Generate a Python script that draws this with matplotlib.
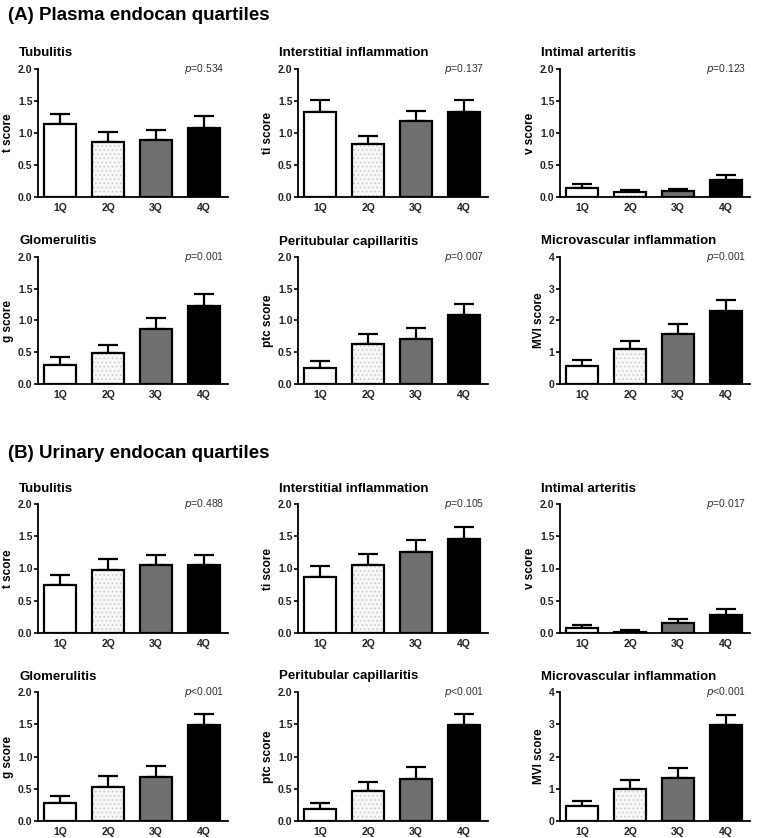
import numpy as np
import matplotlib.pyplot as plt

plt.rcParams["font.family"] = ["Liberation Sans", "DejaVu Sans"]
plt.rcParams["hatch.linewidth"] = 0.5

quartiles = ["1Q", "2Q", "3Q", "4Q"]
titles = ["Tubulitis", "Interstitial inflammation", "Intimal arteritis",
          "Glomerulitis", "Peritubular capillaritis", "Microvascular inflammation"]
ylabels = ["t score", "ti score", "v score", "g score", "ptc score", "MVI score"]

# (A) plasma endocan quartiles
plasma_mean = [
    [1.14, 0.86, 0.89, 1.08],
    [1.33, 0.83, 1.18, 1.33],
    [0.14, 0.08, 0.09, 0.26],
    [0.30, 0.49, 0.87, 1.23],
    [0.25, 0.63, 0.71, 1.08],
    [0.56, 1.10, 1.58, 2.31],
]
plasma_sem = [
    [0.16, 0.15, 0.15, 0.18],
    [0.19, 0.13, 0.17, 0.19],
    [0.06, 0.03, 0.04, 0.09],
    [0.13, 0.13, 0.17, 0.19],
    [0.11, 0.16, 0.17, 0.18],
    [0.21, 0.25, 0.32, 0.33],
]
plasma_p = ["=0.534", "=0.137", "=0.123", "=0.001", "=0.007", "=0.001"]

# (B) urinary endocan quartiles
urine_mean = [
    [0.74, 0.97, 1.05, 1.05],
    [0.87, 1.05, 1.26, 1.46],
    [0.08, 0.02, 0.15, 0.28],
    [0.28, 0.53, 0.68, 1.49],
    [0.18, 0.47, 0.65, 1.49],
    [0.45, 1.00, 1.34, 2.98],
]
urine_sem = [
    [0.16, 0.17, 0.16, 0.16],
    [0.17, 0.18, 0.18, 0.18],
    [0.04, 0.02, 0.06, 0.09],
    [0.11, 0.16, 0.17, 0.17],
    [0.10, 0.14, 0.18, 0.17],
    [0.18, 0.28, 0.30, 0.30],
]
urine_p = ["=0.488", "=0.105", "=0.017", "<0.001", "<0.001", "<0.001"]

face = ["white", "#f7f7f7", "#707070", "black"]
hatches = [None, "....", None, None]

W, H = 758, 838
fig = plt.figure(figsize=(W / 100, H / 100), dpi=100)

col_left = [38, 298, 560]
col_w = 190
rows = [(69, 197), (257, 384), (504, 633), (692, 821)]


def panel(px_left, top, bottom, mean, sem, title, ylabel, ptxt, ymax):
    ax = fig.add_axes([px_left / W, 1 - bottom / H, col_w / W, (bottom - top) / H])
    x = np.arange(len(quartiles))
    for i in range(len(quartiles)):
        if hatches[i]:
            # light stipple fill, outline drawn separately
            ax.bar(x[i], mean[i], width=0.68, color=face[i], edgecolor="#c0c0c0",
                   linewidth=0, hatch=hatches[i], zorder=2)
            ax.bar(x[i], mean[i], width=0.68, fill=False, edgecolor="black",
                   linewidth=1.6, zorder=3)
        else:
            ax.bar(x[i], mean[i], width=0.68, color=face[i], edgecolor="black",
                   linewidth=1.6, zorder=2)
    ax.errorbar(x, mean, yerr=[np.zeros(len(sem)), sem], fmt="none",
                ecolor="black", elinewidth=1.6, capsize=7, capthick=1.6, zorder=1)
    ax.set_xlim(-0.46, 3.5)
    ax.set_ylim(0, ymax)
    if ymax == 4:
        ax.set_yticks([0, 1, 2, 3, 4])
        ax.set_yticklabels(["0", "1", "2", "3", "4"])
    else:
        ticks = [0, 0.5, 1.0, 1.5, 2.0]
        ax.set_yticks(ticks)
        ax.set_yticklabels(["%.1f" % t for t in ticks])
    ax.set_xticks(x)
    ax.set_xticklabels(quartiles)
    ax.tick_params(axis="x", length=0, pad=4)
    ax.tick_params(axis="y", length=3, width=1.2, pad=1)
    for lab in ax.get_xticklabels() + ax.get_yticklabels():
        lab.set_fontweight("bold")
        lab.set_fontsize(7.5)
        lab.set_color("#222222")
    ax.spines["top"].set_visible(False)
    ax.spines["right"].set_visible(False)
    ax.spines["left"].set_linewidth(1.3)
    ax.spines["bottom"].set_linewidth(1.3)
    ax.set_ylabel(ylabel, fontsize=8.5, fontweight="bold", labelpad=3)
    ax.set_title(title, loc="left", x=-0.1, pad=9, fontsize=9.5, fontweight="bold")
    ax.text(0.98, 1.0, "$\\it{p}$" + ptxt, transform=ax.transAxes, ha="right",
            va="center", fontsize=7.5, color="#333333")
    return ax


for s, (means, sems, ps) in enumerate([(plasma_mean, plasma_sem, plasma_p),
                                        (urine_mean, urine_sem, urine_p)]):
    for k in range(6):
        r = s * 2 + k // 3
        c = k % 3
        top, bottom = rows[r]
        ymax = 4 if k == 5 else 2.0
        panel(col_left[c], top, bottom, means[k], sems[k], titles[k],
              ylabels[k], ps[k], ymax)

fig.text(8 / W, 1 - 15 / H, "(A) Plasma endocan quartiles", fontsize=13.5,
         fontweight="bold", va="center")
fig.text(8 / W, 1 - 453 / H, "(B) Urinary endocan quartiles", fontsize=13.5,
         fontweight="bold", va="center")

fig.savefig("out.png", dpi=100)
